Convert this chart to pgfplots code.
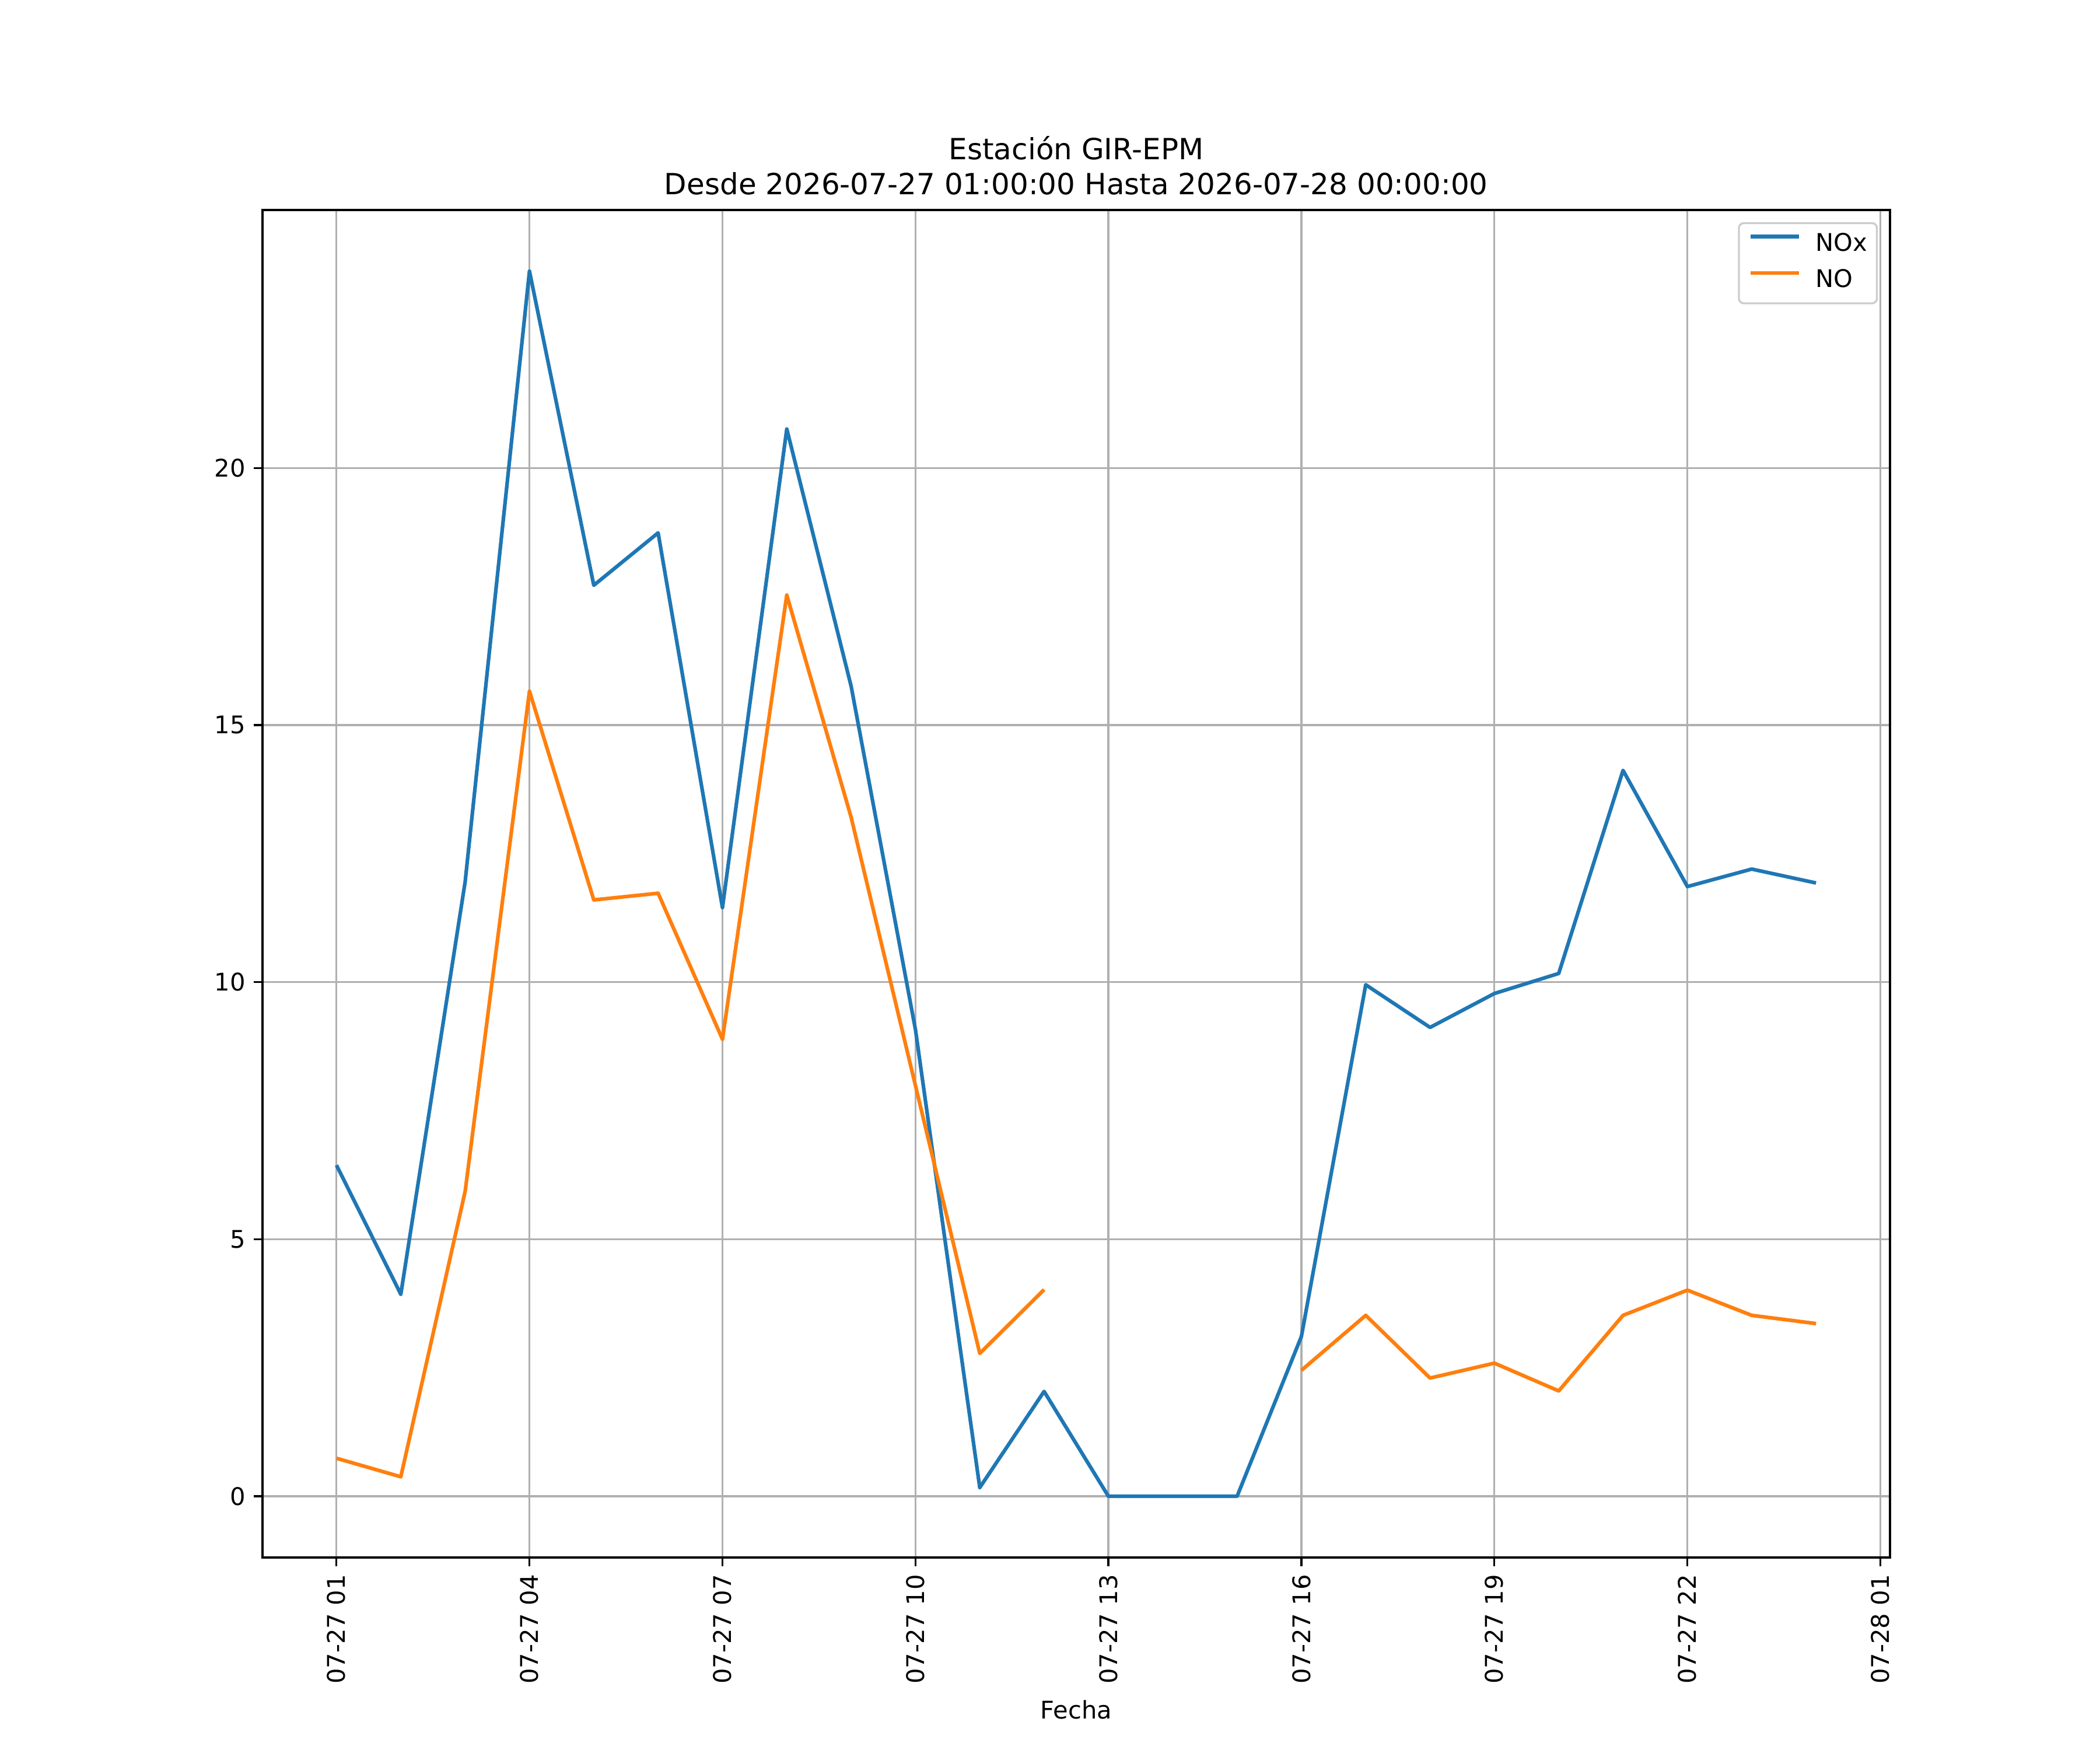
\documentclass[border=0pt]{standalone}
\usepackage{fontspec}
\setmainfont{DejaVu Sans}
\usepackage{pgfplots}
\pgfplotsset{compat=1.18}
\definecolor{tabblue}{HTML}{1F77B4}
\definecolor{taborange}{HTML}{FF7F0E}
\definecolor{gridgray}{HTML}{B0B0B0}
\definecolor{legframe}{HTML}{CCCCCC}
\pgfplotstableread{
h nox no
1 6.44 0.74
2 3.93 0.38
3 11.95 5.93
4 23.83 15.66
5 17.72 11.60
6 18.74 11.73
7 11.45 8.89
8 20.76 17.53
9 15.76 13.21
10 9.08 7.99
11 0.17 2.78
12 2.04 4.02
13 0 nan
14 0 nan
15 0 nan
16 3.11 2.45
17 9.95 3.52
18 9.12 2.30
19 9.78 2.59
20 10.17 2.05
21 14.12 3.52
22 11.86 4.01
23 12.20 3.52
24 11.93 3.36
}\datatable
\begin{document}
\begin{tikzpicture}
\path[use as bounding box] (0,0) rectangle (12in,10in);
\begin{axis}[
  at={(1.5in,1.1in)}, anchor=south west,
  scale only axis, width=9.3in, height=7.7in,
  xmin=-0.15, xmax=25.15, ymin=-1.19, ymax=25.02,
  xtick={1,4,7,10,13,16,19,22,25},
  xticklabels={07-27 01,07-27 04,07-27 07,07-27 10,07-27 13,07-27 16,07-27 19,07-27 22,07-28 01},
  ytick={0,5,10,15,20},
  xtick pos=bottom, ytick pos=left,
  tick align=outside, major tick length=3.5bp,
  tick style={black, line width=0.8bp},
  axis line style={line width=0.8bp},
  grid=major, major grid style={gridgray, line width=0.8bp},
  tick label style={font=\fontsize{10bp}{12bp}\selectfont},
  /pgf/number format/assume math mode=true,
  xticklabel style={rotate=90, anchor=east},
  xlabel={Fecha},
  xlabel style={font=\fontsize{10bp}{12bp}\selectfont},
  every axis title shift=0pt,
  title={Estación GIR-EPM\\Desde 2026-07-27 01:00:00 Hasta 2026-07-28 00:00:00},
  title style={align=center, font=\fontsize{12bp}{14.4bp}\selectfont, at={(0.5,1)}, anchor=south, inner sep=0pt, yshift=6bp},
  unbounded coords=jump,
  legend cell align=left,
  legend style={at={(1,1)}, anchor=north east, xshift=-5bp, yshift=-5bp,
    draw=legframe, line width=0.8bp, rounded corners=2bp, fill=white, fill opacity=0.8, text opacity=1,
    font=\fontsize{10bp}{12bp}\selectfont, inner xsep=4bp, inner ysep=4bp,
    row sep=5bp, column sep=6bp,
    nodes={inner sep=0pt, text height=7.5bp, text depth=2.5bp}},
  legend image code/.code={\draw[#1] (0bp,3.5bp) -- (20bp,3.5bp);},
]
\addplot[tabblue, line width=1.5bp, line join=round] table[x=h, y=nox] {\datatable};
\addlegendentry{NOx}
\addplot[taborange, line width=1.5bp, line join=round] table[x=h, y=no] {\datatable};
\addlegendentry{NO}
\end{axis}
\end{tikzpicture}
\end{document}
